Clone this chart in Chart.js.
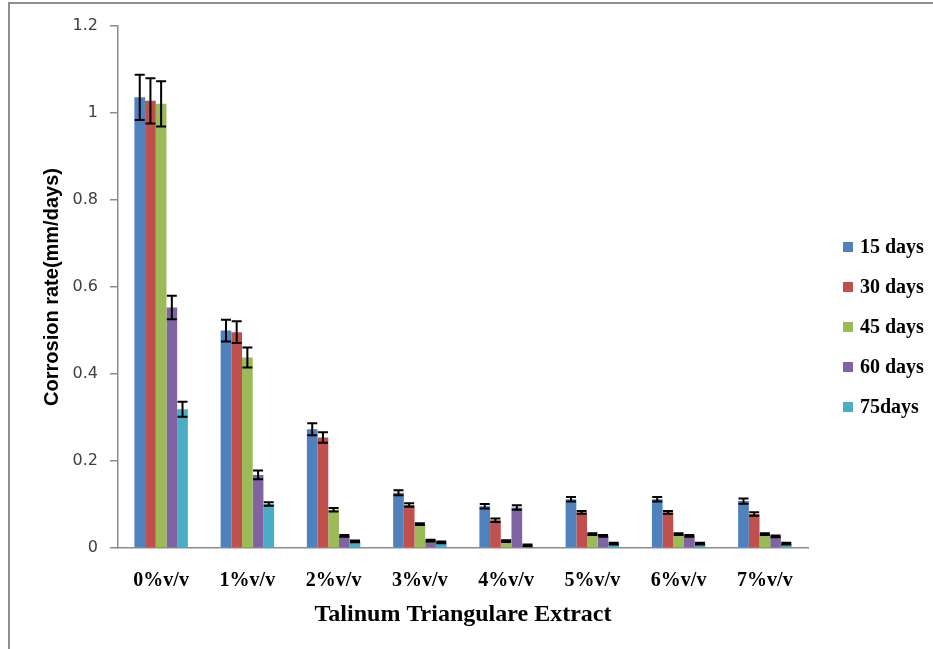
<!DOCTYPE html>
<html>
<head>
<meta charset="utf-8">
<title>Corrosion rate</title>
<script src="https://cdn.jsdelivr.net/npm/chart.js@4.4.1/dist/chart.umd.min.js"></script>
<style>
  html, body { margin: 0; padding: 0; background: #fff; }
  #wrap { position: relative; width: 933px; height: 649px; overflow: hidden; }
  #frame {
    position: absolute; left: 8px; top: 2px; width: 960px; height: 700px;
    border-left: 2px solid #8f8f8f; border-top: 2px solid #8f8f8f;
    pointer-events: none;
  }
  canvas { position: absolute; left: 0; top: 0; }
</style>
</head>
<body>
<div id="wrap">
  <canvas id="corrosionChart" width="933" height="649"></canvas>
  <div id="frame"></div>
</div>
<script>
// extract concentrations on the x axis
const concentrations = ['0%v/v', '1%v/v', '2%v/v', '3%v/v', '4%v/v', '5%v/v', '6%v/v', '7%v/v'];

// immersion periods (legend text)
const periods = ['15 days', '30 days', '45 days', '60 days', '75days'];

// mean corrosion rate, mm/days
const rate15 = [1.036, 0.500, 0.273, 0.127, 0.096, 0.112, 0.112, 0.108];
const rate30 = [1.028, 0.496, 0.254, 0.099, 0.064, 0.082, 0.082, 0.078];
const rate45 = [1.021, 0.438, 0.088, 0.055, 0.016, 0.032, 0.032, 0.032];
const rate60 = [0.553, 0.168, 0.028, 0.017, 0.093, 0.028, 0.028, 0.027];
const rate75 = [0.319, 0.101, 0.015, 0.013, 0.006, 0.010, 0.010, 0.010];

// standard error (+/-) for each mean
const err15 = [0.052, 0.025, 0.014, 0.006, 0.005, 0.005, 0.005, 0.006];
const err30 = [0.052, 0.025, 0.012, 0.004, 0.004, 0.003, 0.003, 0.004];
const err45 = [0.052, 0.023, 0.004, 0.002, 0.002, 0.002, 0.002, 0.002];
const err60 = [0.027, 0.010, 0.002, 0.002, 0.005, 0.002, 0.002, 0.002];
const err75 = [0.017, 0.004, 0.002, 0.002, 0.002, 0.002, 0.002, 0.002];

const colors = ['#4F81BD', '#C0504D', '#9BBB59', '#8064A2', '#4BACC6'];
const rates = [rate15, rate30, rate45, rate60, rate75];
const errors = [err15, err30, err45, err60, err75];

const serifBold = { family: '"Liberation Serif", "Times New Roman", serif', weight: 'bold' };

// black I-shaped error bars on top of every bar
const errorBars = {
  id: 'errorBars',
  afterDatasetsDraw(chart) {
    const { ctx, scales: { y } } = chart;
    ctx.save();
    ctx.strokeStyle = '#000';
    ctx.lineWidth = 2;
    chart.data.datasets.forEach((ds, i) => {
      const meta = chart.getDatasetMeta(i);
      meta.data.forEach((bar, j) => {
        const v = ds.data[j];
        const e = ds.errors[j];
        const top = y.getPixelForValue(v + e);
        const bottom = y.getPixelForValue(v - e);
        const half = 5;
        ctx.beginPath();
        ctx.moveTo(bar.x, top);
        ctx.lineTo(bar.x, bottom);
        ctx.moveTo(bar.x - half, top);
        ctx.lineTo(bar.x + half, top);
        ctx.moveTo(bar.x - half, bottom);
        ctx.lineTo(bar.x + half, bottom);
        ctx.stroke();
      });
    });
    ctx.restore();
  },
};

// legend column to the right of the plot
const sideLegend = {
  id: 'sideLegend',
  afterDraw(chart) {
    const { ctx, chartArea } = chart;
    const x = chartArea.right + 35;
    ctx.save();
    ctx.font = 'bold 20px "Liberation Serif", "Times New Roman", serif';
    ctx.textBaseline = 'middle';
    chart.data.datasets.forEach((ds, i) => {
      const cy = chartArea.top + 221 + i * 40;
      ctx.fillStyle = ds.backgroundColor;
      ctx.fillRect(x, cy - 5, 10, 10);
      ctx.fillStyle = '#000';
      ctx.fillText(ds.label, x + 17, cy + 1);
    });
    ctx.restore();
  },
};

new Chart(document.getElementById('corrosionChart'), {
  type: 'bar',
  data: {
    labels: concentrations,
    datasets: periods.map((p, i) => ({
      label: p,
      data: rates[i],
      errors: errors[i],
      backgroundColor: colors[i],
      borderWidth: 0,
      categoryPercentage: 0.62,
      barPercentage: 1.0,
    })),
  },
  options: {
    responsive: false,
    animation: false,
    layout: { padding: { left: 20, right: 125, top: 26, bottom: 0 } },
    plugins: {
      legend: { display: false },
      tooltip: { enabled: false },
    },
    scales: {
      x: {
        grid: { display: false, drawTicks: false },
        border: { display: true, color: '#8c8c8c', width: 1.5 },
        ticks: {
          color: '#000',
          padding: 21,
          font: { ...serifBold, size: 20 },
          maxRotation: 0,
          autoSkip: false,
        },
        title: {
          display: true,
          text: 'Talinum Triangulare Extract',
          color: '#000',
          font: { ...serifBold, size: 24 },
          padding: { top: 4, bottom: 20 },
        },
        afterFit(scale) {
          scale.height = 101;
        },
      },
      y: {
        min: 0,
        max: 1.2,
        ticks: {
          stepSize: 0.2,
          color: '#404040',
          padding: 12,
          font: { family: '"DejaVu Sans", Verdana, sans-serif', size: 16 },
          callback: (v) => String(Math.round(v * 10) / 10),
        },
        grid: {
          drawOnChartArea: false,
          drawTicks: true,
          tickLength: 8,
          color: '#8c8c8c',
          lineWidth: 1.5,
        },
        border: { display: true, color: '#8c8c8c', width: 1.5 },
        title: {
          display: true,
          text: 'Corrosion rate(mm/days)',
          color: '#000',
          font: { family: '"Liberation Sans", Arial, sans-serif', weight: 'bold', size: 20 },
          padding: { top: 20, bottom: 0 },
        },
        afterFit(scale) {
          scale.width = 98;
        },
      },
    },
  },
  plugins: [errorBars, sideLegend],
});
</script>
</body>
</html>
